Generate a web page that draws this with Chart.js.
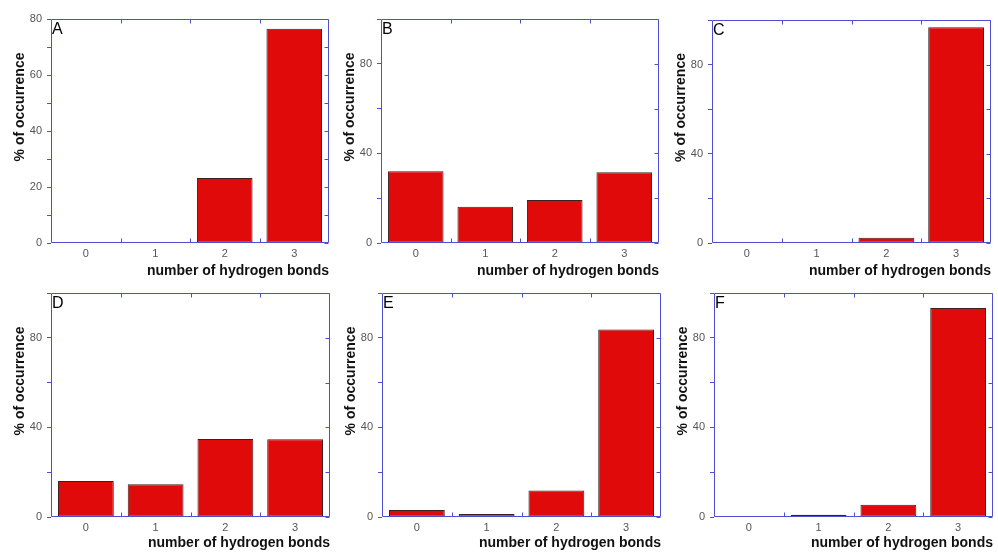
<!DOCTYPE html>
<html>
<head>
<meta charset="utf-8">
<script src="https://cdn.jsdelivr.net/npm/chart.js@4/dist/chart.umd.min.js"></script>
<style>
  html, body { margin:0; padding:0; background:#fff; }
  body { width:998px; height:552px; position:relative; overflow:hidden; }
  canvas { position:absolute; }
</style>
</head>
<body>
<canvas id="cA"></canvas>
<canvas id="cB"></canvas>
<canvas id="cC"></canvas>
<canvas id="cD"></canvas>
<canvas id="cE"></canvas>
<canvas id="cF"></canvas>
<script>
// ---- data ----
const categories = ['0', '1', '2', '3'];
const panelA = [0, 0, 23.2, 76.5];
const panelB = [32.0, 16.2, 19.2, 31.6];
const panelC = [0, 0.4, 2.4, 96.8];
const panelD = [16.1, 14.6, 34.8, 34.7];
const panelE = [3.1, 1.3, 11.8, 83.7];
const panelF = [0, 1.0, 5.5, 93.3];
const panelLetters = ['A', 'B', 'C', 'D', 'E', 'F'];
const yTitle = '% of occurrence';
const xTitle = 'number of hydrogen bonds';

// ---- layout / style ----
const BLUE = '#4e4ecf';
const RED = '#e00a0a';
const FONT = "'Liberation Sans', Arial, sans-serif";

const panels = [
  { id:'cA', letter:panelLetters[0], data:panelA, max:80,  step:10, labelEvery:20, left:0,   top:0,   w:335, h:280, yW:51, padTop:19, padRight:6, xH:37 },
  { id:'cB', letter:panelLetters[1], data:panelB, max:100, step:20, labelEvery:40, left:333, top:0,   w:332, h:280, yW:48, padTop:19, padRight:6, xH:37 },
  { id:'cC', letter:panelLetters[2], data:panelC, max:100, step:20, labelEvery:40, left:663, top:0,   w:335, h:280, yW:49, padTop:20, padRight:7, xH:37 },
  { id:'cD', letter:panelLetters[3], data:panelD, max:100, step:20, labelEvery:40, left:0,   top:276, w:335, h:276, yW:51, padTop:17, padRight:5, xH:35 },
  { id:'cE', letter:panelLetters[4], data:panelE, max:100, step:20, labelEvery:40, left:333, top:276, w:332, h:276, yW:49, padTop:17, padRight:4, xH:35 },
  { id:'cF', letter:panelLetters[5], data:panelF, max:100, step:20, labelEvery:40, left:663, top:276, w:335, h:276, yW:51, padTop:17, padRight:5, xH:35 },
];

const framePlugin = {
  id: 'frame',
  afterDraw(chart, args, opts) {
    const { ctx, chartArea: { left, right, top, bottom }, scales: { x, y } } = chart;
    ctx.save();
    ctx.strokeStyle = BLUE;
    ctx.lineWidth = 1;
    const L = Math.round(left) + 0.5, R = Math.round(right) - 0.5;
    const T = Math.round(top) + 0.5, B = Math.round(bottom) - 0.5;
    ctx.beginPath();
    ctx.rect(L, T, R - L, B - T);
    // right inner ticks
    y.ticks.forEach(t => {
      const py = Math.round(y.getPixelForValue(t.value)) + 0.5;
      ctx.moveTo(R, py); ctx.lineTo(R - 4, py);
    });
    // top/bottom inner ticks at category boundaries
    for (let i = 0; i < categories.length - 1; i++) {
      const px = Math.round((x.getPixelForValue(i) + x.getPixelForValue(i + 1)) / 2) + 0.5;
      ctx.moveTo(px, T); ctx.lineTo(px, T + 4);
      ctx.moveTo(px, B); ctx.lineTo(px, B - 4);
    }
    ctx.stroke();
    // panel letter
    ctx.fillStyle = '#000';
    ctx.font = '16px ' + FONT;
    ctx.textAlign = 'left';
    ctx.textBaseline = 'top';
    ctx.fillText(opts.letter, left + 1, top + 3);
    // y title
    ctx.save();
    ctx.translate(left - 31, (top + bottom) / 2 - 24);
    ctx.rotate(-Math.PI / 2);
    ctx.font = 'bold 14px ' + FONT;
    ctx.textAlign = 'center';
    ctx.textBaseline = 'middle';
    ctx.fillStyle = '#111';
    ctx.fillText(yTitle, 0, 0);
    ctx.restore();
    ctx.restore();
  }
};

panels.forEach(p => {
  const cv = document.getElementById(p.id);
  cv.width = p.w; cv.height = p.h;
  cv.style.left = p.left + 'px'; cv.style.top = p.top + 'px';
  cv.style.width = p.w + 'px'; cv.style.height = p.h + 'px';
  new Chart(cv, {
    type: 'bar',
    data: {
      labels: categories,
      datasets: [{
        data: p.data,
        backgroundColor: RED,
        borderColor: '#3a2222',
        borderWidth: 1,
        borderSkipped: false,
        barPercentage: 0.8,
        categoryPercentage: 1.0
      }]
    },
    options: {
      responsive: false,
      devicePixelRatio: 1,
      animation: false,
      layout: { padding: { top: p.padTop, right: p.padRight, bottom: 0, left: 0 } },
      plugins: { legend: { display: false }, tooltip: { enabled: false }, frame: { letter: p.letter } },
      scales: {
        x: {
          offset: true,
          afterFit(s) { s.height = p.xH; },
          grid: { display: false, drawTicks: false, tickLength: 0 },
          border: { display: false },
          ticks: { color: '#555', font: { family: FONT, size: 11 }, padding: 4 },
          title: { display: true, text: xTitle, align: 'end', color: '#111',
                   font: { family: FONT, size: 14, weight: 'bold' }, padding: { top: 0, bottom: 0 } }
        },
        y: {
          min: 0, max: p.max,
          afterFit(s) { s.width = p.yW; },
          grid: { drawOnChartArea: false, drawTicks: true, tickLength: 4, color: BLUE },
          border: { display: false },
          ticks: { stepSize: p.step, autoSkip: false, color: '#555', padding: 5,
                   font: { family: FONT, size: 11 },
                   callback: v => (v % p.labelEvery === 0 ? String(v) : '') }
        }
      }
    },
    plugins: [framePlugin]
  });
});
</script>
</body>
</html>
